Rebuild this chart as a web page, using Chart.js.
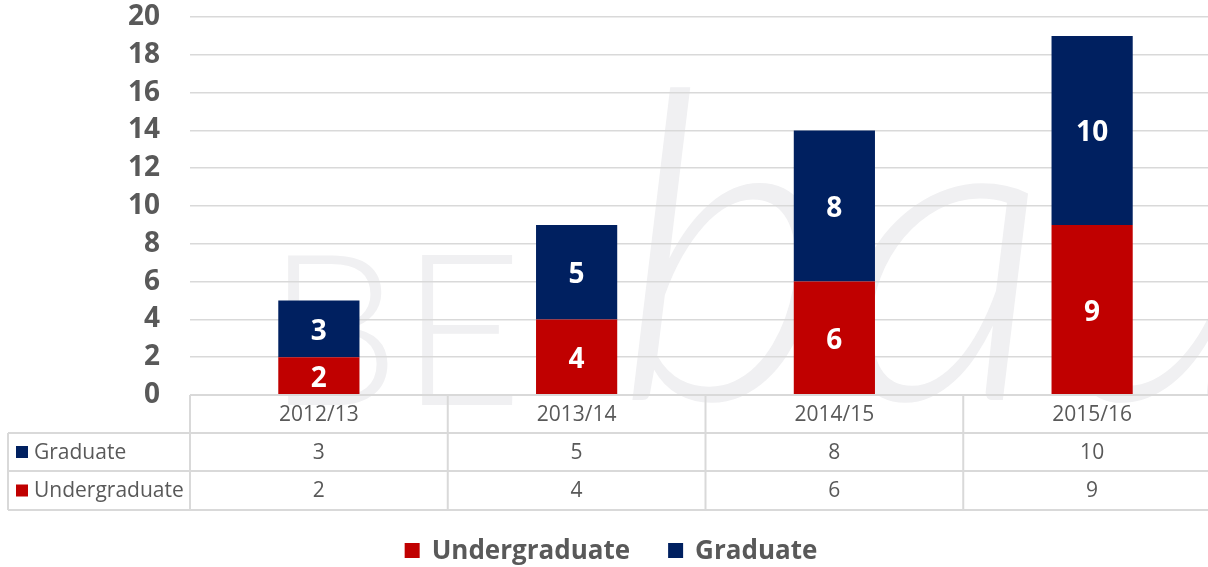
<!DOCTYPE html>
<html>
<head>
<meta charset="utf-8">
<script src="https://cdn.jsdelivr.net/npm/chart.js@4.4.1/dist/chart.umd.min.js"></script>
<style>
  html, body { margin: 0; padding: 0; background: #fff; overflow: hidden; }
  #wrap { width: 1222px; height: 567px; }
</style>
</head>
<body>
<div id="wrap"><canvas id="chart" width="1222" height="567"></canvas></div>
<script>
// data
const years = ["2012/13", "2013/14", "2014/15", "2015/16"];
const undergraduate = [2, 4, 6, 9];
const graduate = [3, 5, 8, 10];
const yMin = 0, yMax = 20, yStep = 2;

const RED = "#C00000", NAVY = "#002060", GREY = "#595959", LINE = "#d9d9d9";
const FONT = "'Open Sans', 'DejaVu Sans', sans-serif";

// faint "BEbau" watermark behind everything
const watermark = {
  id: "watermark",
  beforeDraw(chart) {
    const ctx = chart.ctx;
    ctx.save();
    ctx.fillStyle = "#fff";
    ctx.fillRect(0, 0, chart.width, chart.height);
    ctx.fillStyle = "#f0f0f2";
    ctx.textBaseline = "alphabetic";
    ctx.font = "300 212px Lato, " + FONT;
    ctx.fillText("BE", 266, 405);
    ctx.font = "italic 300 430px Lato, serif";
    ctx.fillText("bau", 615, 400);
    ctx.restore();
  }
};

// white value labels inside each segment
const segLabels = {
  id: "segLabels",
  afterDatasetsDraw(chart) {
    const ctx = chart.ctx;
    ctx.save();
    ctx.fillStyle = "#fff";
    ctx.font = "bold 28px " + FONT;
    ctx.textAlign = "center";
    ctx.textBaseline = "middle";
    chart.data.datasets.forEach((ds, i) => {
      chart.getDatasetMeta(i).data.forEach((bar, j) => {
        const p = bar.getProps(["x", "y", "base"], true);
        ctx.fillText(ds.data[j], p.x, (p.y + p.base) / 2 + 3);
      });
    });
    ctx.restore();
  }
};

// data table under the plot + legend at the bottom
const dataTable = {
  id: "dataTable",
  afterDraw(chart) {
    const ctx = chart.ctx, a = chart.chartArea, xs = chart.scales.x;
    const colW = (a.right - a.left) / years.length;
    const top = a.bottom, r1 = top + 38, r2 = r1 + 38, bot = r2 + 39;
    const left = 8;
    ctx.save();
    ctx.strokeStyle = LINE;
    ctx.lineWidth = 2;
    ctx.beginPath();
    ctx.moveTo(a.left, top); ctx.lineTo(a.right + 2, top);
    [r1, r2, bot].forEach(y => { ctx.moveTo(left, y); ctx.lineTo(a.right + 2, y); });
    ctx.moveTo(left, r1); ctx.lineTo(left, bot);
    for (let i = 0; i <= years.length; i++) {
      const x = a.left + i * colW;
      ctx.moveTo(x, top); ctx.lineTo(x, bot);
    }
    ctx.stroke();

    ctx.fillStyle = GREY;
    ctx.font = "21px " + FONT;
    ctx.textAlign = "center";
    ctx.textBaseline = "middle";
    const rows = [
      { label: "Graduate", color: NAVY, vals: graduate, y: (r1 + r2) / 2 + 1 },
      { label: "Undergraduate", color: RED, vals: undergraduate, y: (r2 + bot) / 2 + 1 }
    ];
    years.forEach((yr, i) => {
      const cx = xs.getPixelForValue(i);
      ctx.fillText(yr, cx, (top + r1) / 2 + 1);
      rows.forEach(r => ctx.fillText(r.vals[i], cx, r.y));
    });
    ctx.textAlign = "left";
    rows.forEach(r => {
      ctx.fillStyle = r.color;
      ctx.fillRect(16, r.y - 7, 12, 12);
      ctx.fillStyle = GREY;
      ctx.fillText(r.label, 34, r.y);
    });

    // legend
    ctx.font = "bold 26px " + FONT;
    const items = chart.data.datasets.map(d => ({ label: d.label, color: d.backgroundColor, w: ctx.measureText(d.label).width }));
    const box = 15, gapText = 12, gapItem = 38;
    const total = items.reduce((s, it) => s + box + gapText + it.w, 0) + gapItem * (items.length - 1);
    let x = (chart.width - total) / 2;
    const ly = 552;
    items.forEach(it => {
      ctx.fillStyle = it.color;
      ctx.fillRect(x, ly - 9, box, box);
      x += box + gapText;
      ctx.fillStyle = GREY;
      ctx.fillText(it.label, x, ly);
      x += it.w + gapItem;
    });
    ctx.restore();
  }
};

new Chart(document.getElementById("chart"), {
  type: "bar",
  data: {
    labels: years,
    datasets: [
      { label: "Undergraduate", data: undergraduate, backgroundColor: RED },
      { label: "Graduate", data: graduate, backgroundColor: NAVY }
    ]
  },
  options: {
    responsive: false,
    animation: false,
    devicePixelRatio: 1,
    layout: { padding: { top: 17, bottom: 172, right: 1, left: 0 } },
    datasets: { bar: { categoryPercentage: 1, barPercentage: 0.315 } },
    plugins: { legend: { display: false }, tooltip: { enabled: false } },
    scales: {
      x: { stacked: true, display: false },
      y: {
        stacked: true,
        min: yMin, max: yMax,
        afterFit(s) { s.width = 190; s.paddingTop = 0; s.paddingBottom = 0; },
        ticks: { stepSize: yStep, color: GREY, padding: 30, font: { family: FONT, size: 28, weight: "bold" } },
        grid: { color: LINE, lineWidth: 1.5, drawTicks: false },
        border: { display: false }
      }
    }
  },
  plugins: [watermark, segLabels, dataTable]
});
</script>
</body>
</html>
